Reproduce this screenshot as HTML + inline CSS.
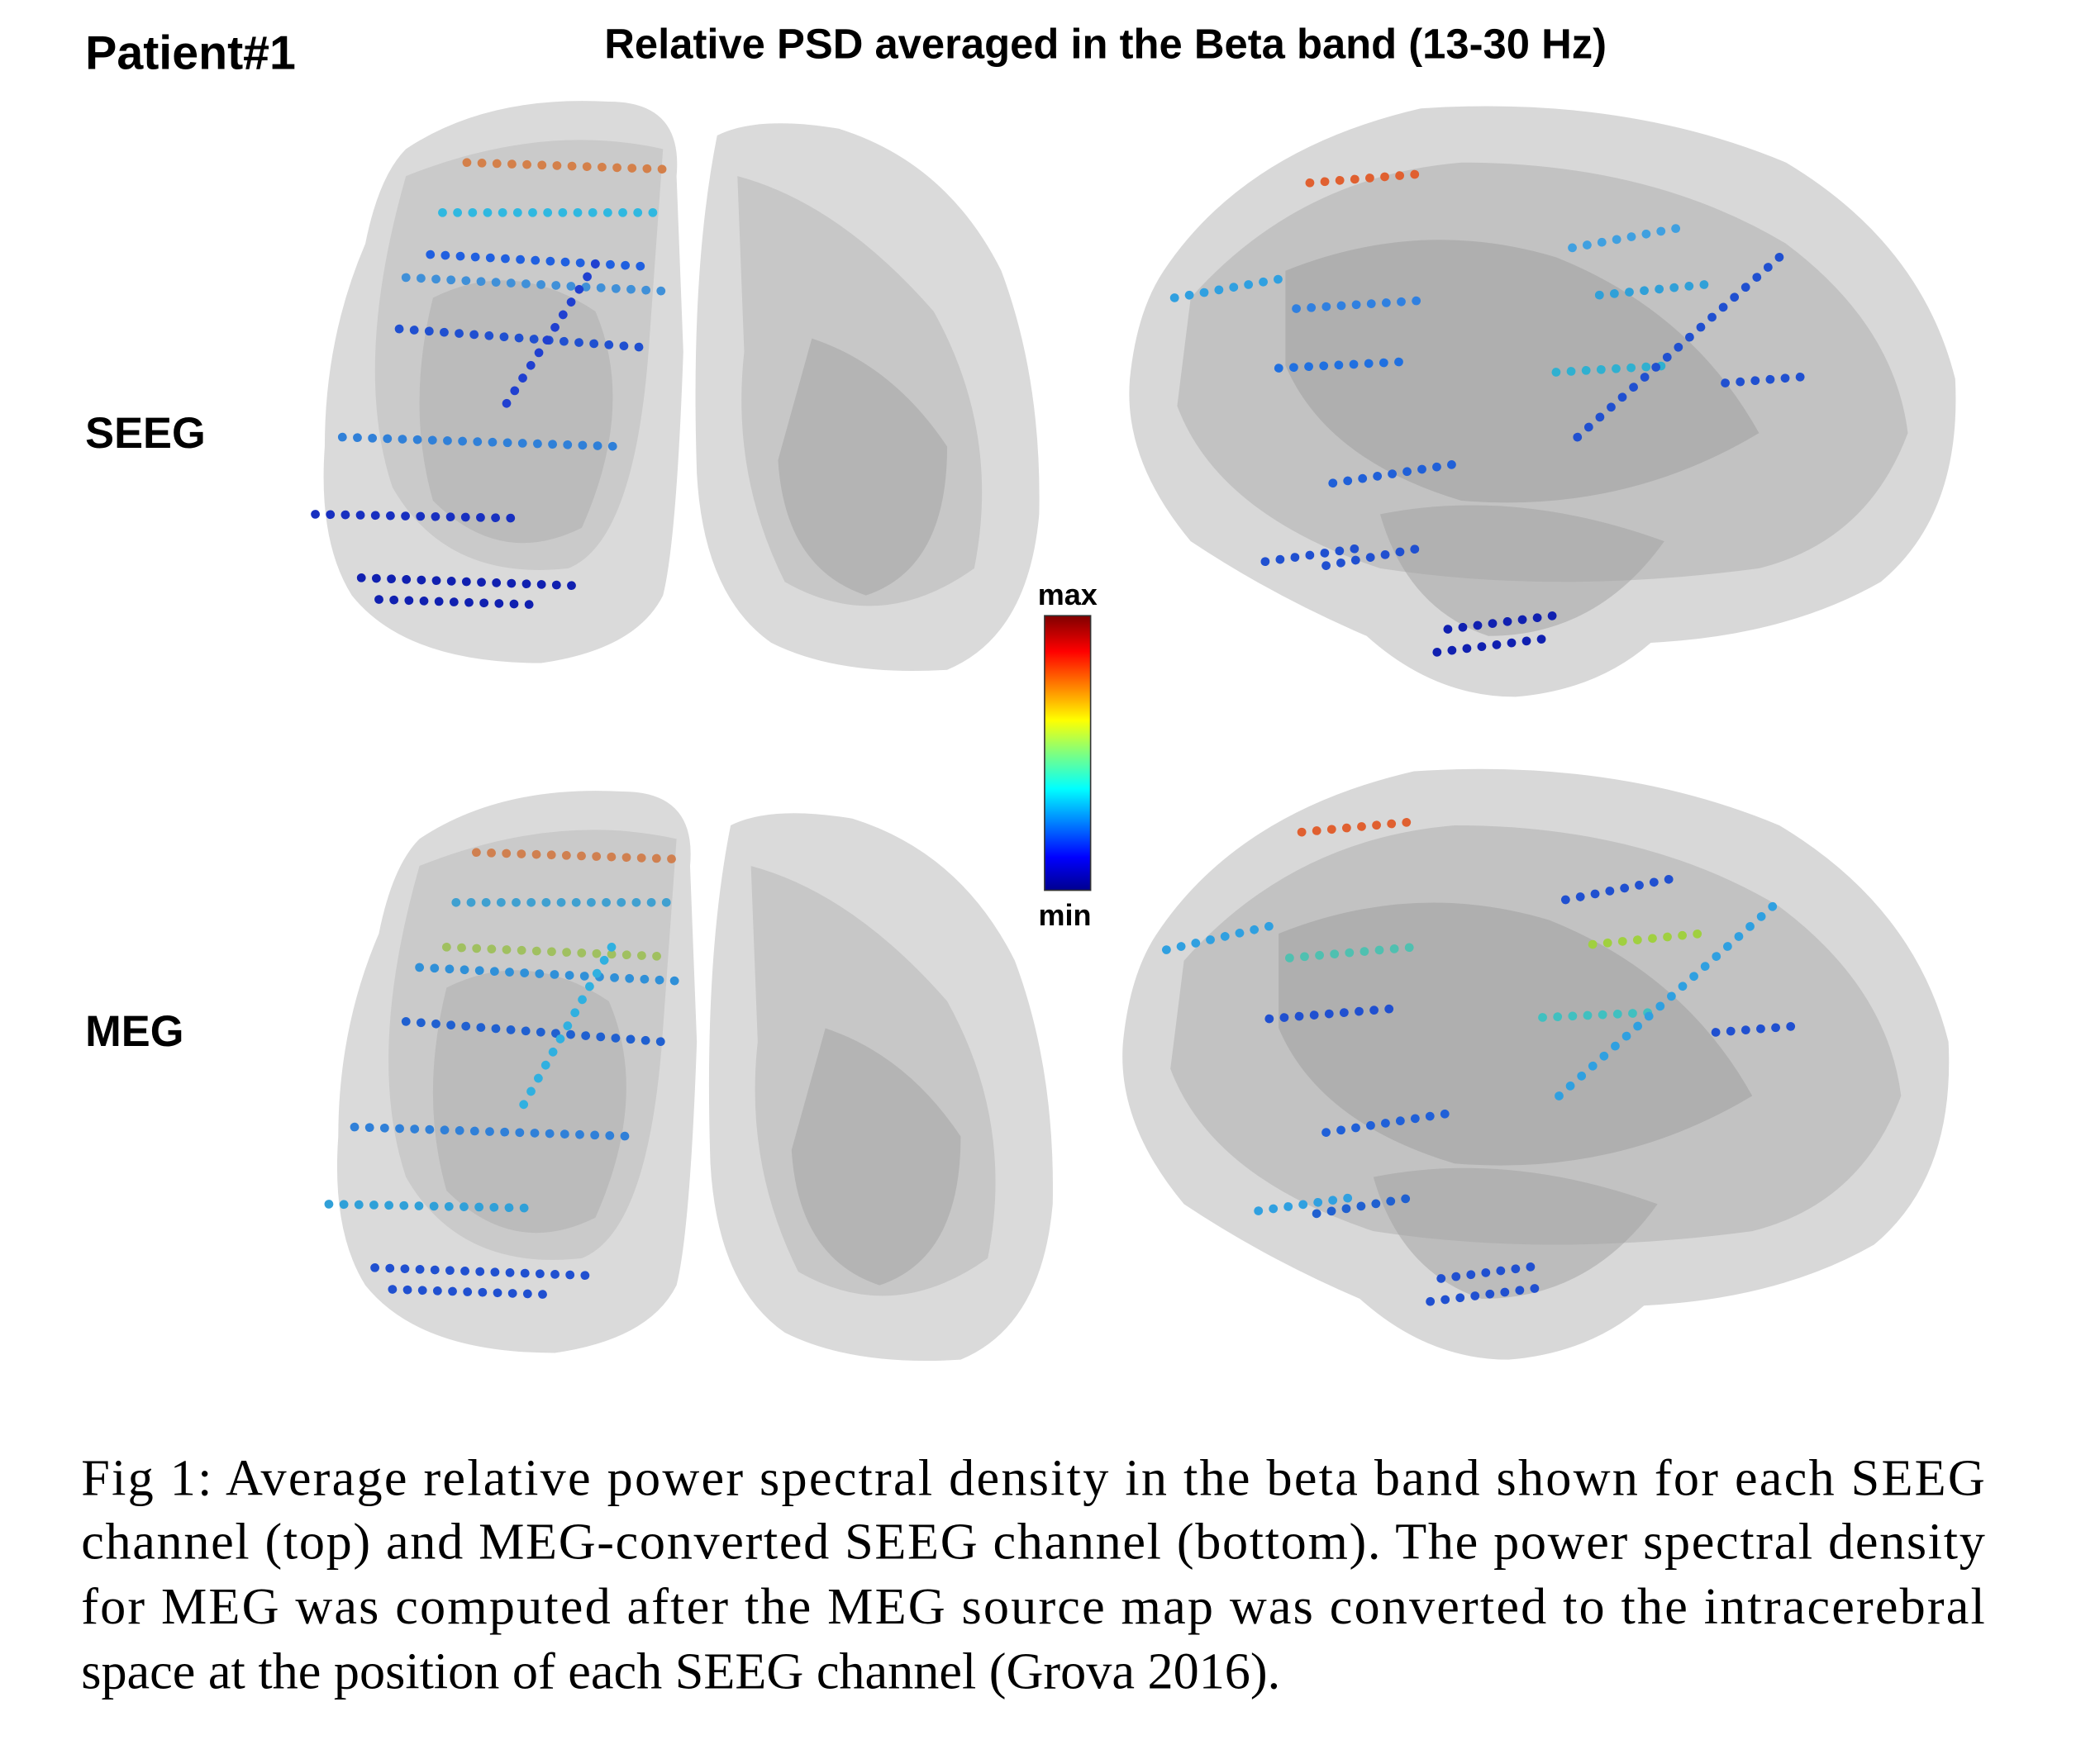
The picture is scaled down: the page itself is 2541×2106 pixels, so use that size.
<!DOCTYPE html>
<html><head><meta charset="utf-8"><style>
html,body{margin:0;padding:0;background:#fff;}
svg{display:block}
</style></head><body>
<svg width="2541" height="2106" viewBox="0 0 1552 1286" xmlns="http://www.w3.org/2000/svg" font-family="Liberation Sans, sans-serif">
<defs>
<linearGradient id="cb" x1="0" y1="1" x2="0" y2="0">
<stop offset="0" stop-color="#00008f"/><stop offset="0.12" stop-color="#0000ff"/><stop offset="0.37" stop-color="#00ffff"/><stop offset="0.5" stop-color="#7fff7f"/><stop offset="0.62" stop-color="#ffff00"/><stop offset="0.87" stop-color="#ff0000"/><stop offset="1" stop-color="#800000"/>
</linearGradient>
<g id="front">
<path d="M300,110 Q360,70 450,75 Q505,75 500,130 L505,260 Q500,400 490,440 Q470,480 400,490 Q300,490 260,440 Q235,400 240,330 Q240,250 270,180 Q280,130 300,110 Z" fill="#dadada"/>
<path d="M300,130 Q400,90 490,110 L480,250 Q470,400 420,420 Q330,430 290,360 Q260,270 300,130 Z" fill="#bdbdbd" opacity="0.55"/>
<path d="M320,220 Q380,190 440,230 Q470,300 430,390 Q370,420 320,370 Q300,300 320,220 Z" fill="#a9a9a9" opacity="0.45"/>
<path d="M530,100 Q560,85 620,95 Q700,120 740,200 Q770,280 768,380 Q760,470 700,495 Q620,500 570,475 Q520,440 515,350 Q510,200 530,100 Z" fill="#dadada"/>
<path d="M545,130 Q620,150 690,230 Q740,320 720,420 Q650,470 580,430 Q540,350 550,260 Z" fill="#b3b3b3" opacity="0.5"/>
<path d="M600,250 Q660,270 700,330 Q700,420 640,440 Q580,420 575,340 Z" fill="#9e9e9e" opacity="0.45"/>
</g>
<g id="lat">
<path d="M860,200 Q920,110 1050,80 Q1200,70 1320,120 Q1420,180 1445,280 Q1450,380 1390,430 Q1320,470 1220,475 Q1180,510 1120,515 Q1060,515 1010,470 Q940,440 880,400 Q830,340 835,280 Q840,230 860,200 Z" fill="#d8d8d8"/>
<path d="M880,220 Q960,130 1080,120 Q1220,120 1320,180 Q1400,240 1410,320 Q1380,400 1300,420 Q1150,440 1020,420 Q900,380 870,300 Z" fill="#b0b0b0" opacity="0.55"/>
<path d="M950,200 Q1050,160 1150,190 Q1250,230 1300,320 Q1200,380 1080,370 Q980,340 950,270 Z" fill="#9a9a9a" opacity="0.45"/>
<path d="M1020,380 Q1120,360 1230,400 Q1180,470 1100,470 Q1040,450 1020,380 Z" fill="#a0a0a0" opacity="0.5"/>
</g>
</defs>
<text x="63" y="51" font-size="35" font-weight="bold">Patient#1</text>
<text x="817" y="43" font-size="31" font-weight="bold" text-anchor="middle">Relative PSD averaged in the Beta band (13-30 Hz)</text>
<text x="63" y="331" font-size="32" font-weight="bold">SEEG</text>
<text x="63" y="773" font-size="32" font-weight="bold">MEG</text>

<use href="#front"/>
<use href="#lat"/>
<g transform="translate(10,510)"><use href="#front"/></g>
<g transform="translate(-5,490)"><use href="#lat"/></g>

<g fill="none" stroke-linecap="round" stroke-width="6.5" stroke-dasharray="0.1 11">
<line x1="345" y1="120" x2="492" y2="125" stroke="#d4804a"/>
<line x1="327" y1="157" x2="487" y2="157" stroke="#30b8e0"/>
<line x1="318" y1="188" x2="480" y2="197" stroke="#2060e0"/>
<line x1="300" y1="205" x2="490" y2="215" stroke="#4090d8"/>
<line x1="295" y1="243" x2="480" y2="257" stroke="#2050d0"/>
<line x1="440" y1="195" x2="370" y2="305" stroke="#2040d0"/>
<line x1="253" y1="323" x2="460" y2="330" stroke="#3080d8"/>
<line x1="233" y1="380" x2="385" y2="383" stroke="#1830c0"/>
<line x1="267" y1="427" x2="430" y2="433" stroke="#1020b0"/>
<line x1="280" y1="443" x2="400" y2="447" stroke="#1020b0"/>
<line x1="968" y1="135" x2="1055" y2="128" stroke="#e06030"/>
<line x1="868" y1="220" x2="952" y2="205" stroke="#30a0e0"/>
<line x1="958" y1="228" x2="1050" y2="222" stroke="#3080e0"/>
<line x1="945" y1="272" x2="1042" y2="267" stroke="#2070e0"/>
<line x1="1162" y1="183" x2="1248" y2="167" stroke="#40a0e0"/>
<line x1="1182" y1="218" x2="1262" y2="210" stroke="#30a0d8"/>
<line x1="1150" y1="275" x2="1235" y2="270" stroke="#30b0d0"/>
<line x1="1315" y1="190" x2="1158" y2="330" stroke="#2050d0"/>
<line x1="1275" y1="283" x2="1337" y2="278" stroke="#2050d0"/>
<line x1="985" y1="357" x2="1075" y2="343" stroke="#2060d8"/>
<line x1="935" y1="415" x2="1005" y2="405" stroke="#2050d0"/>
<line x1="980" y1="418" x2="1050" y2="405" stroke="#2050d0"/>
<line x1="1070" y1="465" x2="1148" y2="455" stroke="#1020b0"/>
<line x1="1062" y1="482" x2="1142" y2="472" stroke="#1020b0"/>
<line x1="352" y1="630" x2="502" y2="635" stroke="#d08050"/>
<line x1="337" y1="667" x2="497" y2="667" stroke="#40a0d0"/>
<line x1="330" y1="700" x2="492" y2="707" stroke="#a0c060"/>
<line x1="310" y1="715" x2="500" y2="725" stroke="#3090d8"/>
<line x1="300" y1="755" x2="490" y2="770" stroke="#2060d0"/>
<line x1="452" y1="700" x2="385" y2="820" stroke="#30b0e0"/>
<line x1="262" y1="833" x2="470" y2="840" stroke="#3080d8"/>
<line x1="243" y1="890" x2="395" y2="893" stroke="#30a0d8"/>
<line x1="277" y1="937" x2="440" y2="943" stroke="#2050d0"/>
<line x1="290" y1="953" x2="410" y2="957" stroke="#2050d0"/>
<line x1="962" y1="615" x2="1048" y2="607" stroke="#e06030"/>
<line x1="862" y1="702" x2="945" y2="683" stroke="#30a0e0"/>
<line x1="953" y1="708" x2="1045" y2="700" stroke="#50c0b0"/>
<line x1="938" y1="753" x2="1035" y2="745" stroke="#2050d0"/>
<line x1="1157" y1="665" x2="1243" y2="648" stroke="#2050d0"/>
<line x1="1177" y1="698" x2="1257" y2="690" stroke="#a0d040"/>
<line x1="1140" y1="752" x2="1228" y2="748" stroke="#40c0c0"/>
<line x1="1310" y1="670" x2="1150" y2="812" stroke="#30a0e0"/>
<line x1="1268" y1="763" x2="1332" y2="758" stroke="#2050d0"/>
<line x1="980" y1="837" x2="1070" y2="823" stroke="#2060d8"/>
<line x1="930" y1="895" x2="1000" y2="885" stroke="#30a0e0"/>
<line x1="973" y1="897" x2="1045" y2="885" stroke="#2060d0"/>
<line x1="1065" y1="945" x2="1142" y2="935" stroke="#2050d0"/>
<line x1="1057" y1="962" x2="1137" y2="952" stroke="#2050d0"/>
</g>

<rect x="772" y="455" width="34" height="203" fill="url(#cb)" stroke="#333" stroke-width="1"/>
<text x="789" y="447" font-size="22" font-weight="bold" text-anchor="middle">max</text>
<text x="787" y="684" font-size="22" font-weight="bold" text-anchor="middle">min</text>

<g font-family="Liberation Serif, serif" font-size="38">
<text x="60" y="1105" textLength="1407" lengthAdjust="spacing">Fig 1: Average relative power spectral density in the beta band shown for each SEEG</text>
<text x="60" y="1152" textLength="1407" lengthAdjust="spacing">channel (top) and MEG-converted SEEG channel (bottom). The power spectral density</text>
<text x="60" y="1200" textLength="1407" lengthAdjust="spacing">for MEG was computed after the MEG source map was converted to the intracerebral</text>
<text x="60" y="1248">space at the position of each SEEG channel (Grova 2016).</text>
</g>
</svg>
</body></html>
